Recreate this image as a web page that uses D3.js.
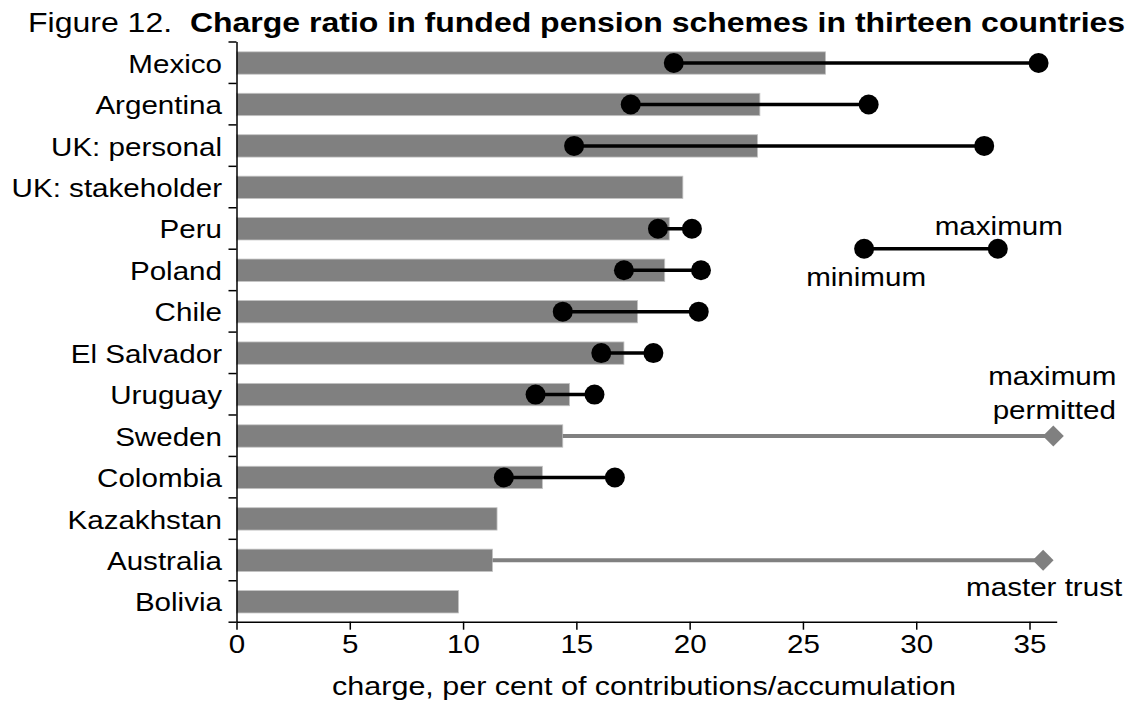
<!DOCTYPE html>
<html><head><meta charset="utf-8">
<script src="https://cdn.jsdelivr.net/npm/d3@7"></script>
<style>
body{margin:0;background:#fff;}
text{font-family:"Liberation Sans",Arial,Helvetica,sans-serif;fill:#000;}
</style></head><body>
<svg id="chart" width="1128" height="706"></svg>
<script>
// ---- data ----
const categories = ["Mexico","Argentina","UK: personal","UK: stakeholder","Peru","Poland","Chile","El Salvador","Uruguay","Sweden","Colombia","Kazakhstan","Australia","Bolivia"];
const averageCharge = [26.0,23.1,23.0,19.7,19.1,18.9,17.7,17.1,14.7,14.4,13.5,11.5,11.3,9.8];
const minCharge     = [19.3,17.4,14.9,null,18.6,17.1,14.4,16.1,13.2,null,11.8,null,null,null];
const maxCharge     = [35.4,27.9,33.0,null,20.1,20.5,20.4,18.4,15.8,null,16.7,null,null,null];
const permittedCharge = [null,null,null,null,null,null,null,null,null,36.05,null,null,35.6,null];
const xTicks = [0,5,10,15,20,25,30,35];
const xDomain = [0,36.2];
const legendRange = [27.7,33.6];
const legendLabels = ["minimum","maximum"];
const permittedLabel = ["maximum","permitted"];
const masterTrustLabel = "master trust";
const titlePrefix = "Figure 12.\u00a0\u00a0";
const titleMain = "Charge ratio in funded pension schemes in thirteen countries";
const xTitle = "charge, per cent of contributions/accumulation";

// ---- layout ----
const SX = 1.16;          // horizontal text stretch of the reference
const FS = 25.5;
const pLeft = 236.5, pRight = 1056.7, pTop = 41.5, pBottom = 621.7;
const svg = d3.select("#chart");

const x = d3.scaleLinear().domain(xDomain).range([pLeft,pRight]);
const y = d3.scaleBand().domain(categories).range([pTop+0.8,pBottom+0.8]).paddingInner(0.46).paddingOuter(0.23);
const yIdx = d3.scaleLinear().domain([0,categories.length]).range([pTop,pBottom]);
const cy = c => y(c) + y.bandwidth()/2;

function stretchText(sel, xx, yy, anchor, size, weight){
  return sel.append("text")
    .attr("transform", `translate(${xx},${yy}) scale(${SX},1)`)
    .attr("text-anchor", anchor)
    .style("font-size", size+"px")
    .style("font-weight", weight||"normal");
}

// title
const t = stretchText(svg, 28, 32, "start", 27.6);
t.append("tspan").text(titlePrefix);
t.append("tspan").style("font-weight","bold").text(titleMain);

// bars
const rows = categories.map((c,i)=>({c, avg:averageCharge[i], mn:minCharge[i], mx:maxCharge[i], perm:permittedCharge[i]}));
svg.append("g").selectAll("rect").data(rows).join("rect")
  .attr("x", x(0)).attr("y", d=>y(d.c))
  .attr("width", d=>x(d.avg)-x(0)).attr("height", y.bandwidth())
  .attr("fill","#808080").attr("stroke","#c4c4c4").attr("stroke-width",0.8);

// permitted lines + diamonds
const perm = rows.filter(d=>d.perm!=null);
svg.append("g").selectAll("line").data(perm).join("line")
  .attr("x1", d=>x(d.avg)).attr("x2", d=>x(d.perm))
  .attr("y1", d=>cy(d.c)).attr("y2", d=>cy(d.c))
  .attr("stroke","#808080").attr("stroke-width",4);
svg.append("g").selectAll("path").data(perm).join("path")
  .attr("d", d3.symbol(d3.symbolSquare, 220))
  .attr("transform", d=>`translate(${x(d.perm)},${cy(d.c)}) rotate(45)`)
  .attr("fill","#808080");

// min-max
const mm = rows.filter(d=>d.mn!=null);
svg.append("g").selectAll("line").data(mm).join("line")
  .attr("x1", d=>x(d.mn)).attr("x2", d=>x(d.mx))
  .attr("y1", d=>cy(d.c)).attr("y2", d=>cy(d.c))
  .attr("stroke","#000").attr("stroke-width",3.5);
const dots = mm.flatMap(d=>[{v:d.mn,c:d.c},{v:d.mx,c:d.c}]);
svg.append("g").selectAll("circle").data(dots).join("circle")
  .attr("cx", d=>x(d.v)).attr("cy", d=>cy(d.c)).attr("r",10).attr("fill","#000");

// legend
const ly = yIdx(5);
svg.append("line").attr("x1",x(legendRange[0])).attr("x2",x(legendRange[1]))
  .attr("y1",ly).attr("y2",ly).attr("stroke","#000").attr("stroke-width",3.5);
svg.append("g").selectAll("circle").data(legendRange).join("circle")
  .attr("cx", d=>x(d)).attr("cy", ly).attr("r",10).attr("fill","#000");
stretchText(svg, x(legendRange[0]) + 2, ly+37, "middle", FS).text(legendLabels[0]);
stretchText(svg, x(legendRange[1]) + 1, ly-14, "middle", FS).text(legendLabels[1]);

// annotations
const swedenY = cy("Sweden");
stretchText(svg, x(permittedCharge[9]) - 1, swedenY-51, "middle", FS).text(permittedLabel[0]);
stretchText(svg, x(permittedCharge[9]) + 1, swedenY-17, "middle", FS).text(permittedLabel[1]);
stretchText(svg, x(permittedCharge[12]) + 1, cy("Australia")+36, "middle", FS).text(masterTrustLabel);

// y axis: boundary ticks and line
const gyTicks = svg.append("g").attr("transform",`translate(${pLeft},0)`)
  .call(d3.axisLeft(yIdx).tickValues(d3.range(categories.length+1)).tickSize(8).tickSizeOuter(0).tickFormat(""));
gyTicks.selectAll("line,path").attr("stroke","#000").attr("stroke-width",1.5);

// y labels
const gyLab = svg.append("g").attr("transform",`translate(${pLeft},0)`)
  .call(d3.axisLeft(y).tickSize(0).tickPadding(12.5));
gyLab.select(".domain").remove();
gyLab.selectAll("text").style("font-size",FS+"px").style("font-family",null)
  .attr("transform",`scale(${SX},1)`).attr("dy","0.38em");

// x axis
const gx = svg.append("g").attr("transform",`translate(0,${pBottom})`)
  .call(d3.axisBottom(x).tickValues(xTicks).tickSize(8).tickSizeOuter(0).tickPadding(5));
gx.selectAll("line,path").attr("stroke","#000").attr("stroke-width",1.5);
gx.selectAll("text").style("font-size",FS+"px").style("font-family",null)
  .attr("transform",`scale(${SX},1)`);

// x title
stretchText(svg, 644, 695, "middle", 26.3).text(xTitle);
</script>
</body></html>
